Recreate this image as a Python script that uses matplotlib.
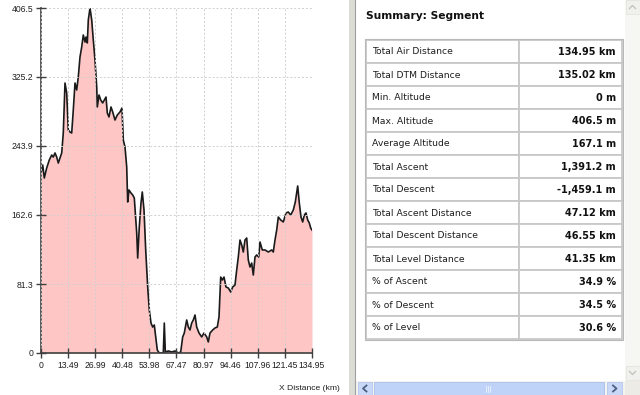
import matplotlib
matplotlib.use("Agg")
import matplotlib.pyplot as plt
from matplotlib.patches import Rectangle

# 高程剖面数据（km, m），从截图读取
dist_km = [
    0.0, 0.85, 1.64, 2.84, 4.13, 5.33, 6.13, 6.97, 7.82, 8.62, 9.46, 10.31,
    11.10, 11.95, 12.80, 13.59, 14.44, 15.29, 16.08, 16.93, 17.78, 18.57,
    19.42, 20.27, 21.06, 21.91, 22.41, 23.06, 23.56, 24.40, 25.25, 26.04,
    26.89, 27.74, 28.04, 28.88, 29.73, 30.73, 31.52, 32.37, 33.02, 33.86,
    34.86, 35.70, 36.85, 38.00, 39.34, 40.34, 40.98, 41.83, 42.68, 43.17,
    43.82, 44.82, 45.66, 46.46, 47.66, 48.15, 48.95, 49.80, 50.44, 51.29,
    52.14, 53.13, 53.93, 54.78, 55.62, 56.42, 57.12, 57.91, 58.91, 60.90,
    61.40, 61.90, 63.39, 65.08, 66.73, 68.37, 69.57, 70.56, 71.36, 72.55,
    73.35, 74.20, 75.04, 75.84, 76.69, 77.53, 78.68, 80.02, 81.17, 82.52,
    83.31, 84.16, 85.50, 86.65, 87.79, 88.64, 89.49, 90.28, 91.13, 92.12,
    93.27, 94.47, 95.46, 96.61, 97.45, 98.25, 99.10, 99.94, 100.74, 101.59,
    102.43, 103.23, 104.08, 104.92, 105.72, 106.57, 107.41, 108.41, 109.06,
    110.20, 111.55, 113.19, 114.88, 115.68, 116.52, 117.37, 118.17, 119.37,
    120.66, 122.00, 123.15, 124.35, 125.64, 126.64, 127.83, 128.63, 129.47,
    130.32, 131.12, 131.96, 132.81, 133.60, 134.30, 134.95,
]
alt_m = [
    212.0, 221.5, 206.2, 218.0, 227.4, 233.3, 230.9, 235.7, 230.9, 223.8,
    229.8, 235.7, 259.2, 318.1, 306.3, 262.7, 260.4, 259.2, 286.3, 318.1,
    309.9, 325.2, 348.8, 360.5, 374.7, 366.4, 372.3, 365.3, 392.4, 406.5,
    392.4, 368.8, 345.2, 313.4, 289.9, 304.0, 298.1, 294.6, 298.1, 301.6,
    282.8, 278.1, 289.9, 284.0, 274.5, 280.4, 284.0, 288.7, 251.0, 242.7,
    219.2, 177.9, 192.1, 188.5, 186.2, 182.6, 141.4, 111.9, 148.5, 176.7,
    189.7, 168.5, 121.4, 77.8, 50.7, 35.3, 30.6, 33.0, 18.9, 3.5, 0.0, 0.0,
    35.3, 1.2, 2.4, 1.2, 2.4, 0.0, 1.2, 18.9, 23.6, 38.9, 30.6, 27.1, 35.3,
    38.9, 44.8, 30.6, 23.6, 18.9, 23.6, 18.9, 13.0, 23.6, 27.1, 29.5, 30.6,
    42.4, 89.5, 86.0, 89.5, 77.8, 76.6, 71.9, 77.8, 80.1, 97.8, 113.1,
    133.1, 127.3, 119.0, 133.1, 135.5, 109.6, 101.3, 106.0, 91.9, 113.1,
    115.5, 113.1, 130.8, 121.4, 121.4, 119.0, 121.4, 119.0, 133.1, 144.9,
    160.2, 156.7, 154.4, 165.0, 166.1, 162.6, 168.5, 177.9, 196.8, 176.7,
    160.2, 154.4, 162.6, 165.0, 156.7, 153.2, 147.3, 144.9,
]

x_tick_labels = ["0", "13.49", "26.99", "40.48", "53.98", "67.47", "80.97",
                 "94.46", "107.96", "121.45", "134.95"]
y_tick_labels = ["0", "81.3", "162.6", "243.9", "325.2", "406.5"]

summary_labels = [
    "Total Air Distance", "Total DTM Distance", "Min. Altitude",
    "Max. Altitude", "Average Altitude", "Total Ascent", "Total Descent",
    "Total Ascent Distance", "Total Descent Distance", "Total Level Distance",
    "% of Ascent", "% of Descent", "% of Level",
]
summary_values = [
    "134.95 km", "135.02 km", "0 m", "406.5 m", "167.1 m", "1,391.2 m",
    "-1,459.1 m", "47.12 km", "46.55 km", "41.35 km", "34.9 %", "34.5 %",
    "30.6 %",
]

W, H = 640, 395
fig = plt.figure(figsize=(W / 100, H / 100), dpi=100)
fig.patch.set_facecolor("white")

# 界面部分（像素坐标）
ui = fig.add_axes([0, 0, 1, 1], zorder=0)
ui.set_xlim(0, W)
ui.set_ylim(H, 0)
ui.axis("off")

# 分隔条
ui.add_patch(Rectangle((349, 0), 6, H, facecolor="#dcdcd6", edgecolor="none"))
ui.plot([354.5, 354.5], [0, H], color="#a0a0a0", lw=0.8)

# 标题
ui.text(366, 16, "Summary: Segment", fontsize=7.7, fontweight="bold",
        family="DejaVu Sans", va="center", ha="left", color="#111111")

# 表格
row_h = 23
top = 40
x_left, x_mid, x_right = 366, 518.5, 622
for i in range(len(summary_labels)):
    y0 = top + i * row_h
    ui.add_patch(Rectangle((x_left, y0), x_mid - x_left, row_h,
                           facecolor="white", edgecolor="#c8c8c8", lw=1.3))
    ui.add_patch(Rectangle((x_mid, y0), x_right - x_mid, row_h,
                           facecolor="white", edgecolor="#c8c8c8", lw=1.3))
    ui.text(372, y0 + row_h / 2 + 0.5, summary_labels[i], fontsize=6.7,
            family="DejaVu Sans", va="center", ha="left", color="#1e1e1e")
    ui.text(616, y0 + row_h / 2 + 0.5, summary_values[i], fontsize=7.0,
            fontweight="bold", family="DejaVu Sans", va="center", ha="right",
            color="#111111")
ui.add_patch(Rectangle((x_left - 1, top - 1), x_right - x_left + 2,
                       row_h * len(summary_labels) + 2, facecolor="none",
                       edgecolor="#b8b8b8", lw=0.8))

# 竖向滚动条
ui.add_patch(Rectangle((625, 0), 15, 381, facecolor="#f6f6f3", edgecolor="none"))
ui.add_patch(Rectangle((625.5, 0), 14, 14, facecolor="#f0f0ec", edgecolor="#e4e4de", lw=0.6))
ui.add_patch(Rectangle((625.5, 366), 14, 14, facecolor="#f0f0ec", edgecolor="#e4e4de", lw=0.6))
ui.plot([629.5, 632.5, 635.5], [8.5, 5.5, 8.5], color="#c4c4c0", lw=1.0)
ui.plot([629.5, 632.5, 635.5], [371.5, 374.5, 371.5], color="#c4c4c0", lw=1.0)

# 横向滚动条
ui.add_patch(Rectangle((356, 381), 269, 14, facecolor="#f4f4f0", edgecolor="none"))
ui.add_patch(Rectangle((358, 382), 14, 13, facecolor="#c9d8f6", edgecolor="#b4c6ee", lw=0.6))
ui.add_patch(Rectangle((374, 382), 230, 13, facecolor="#bfd2f7", edgecolor="#a9bdea", lw=0.6))
ui.add_patch(Rectangle((607, 382), 15, 13, facecolor="#c9d8f6", edgecolor="#b4c6ee", lw=0.6))
ui.plot([366.5, 363, 366.5], [385.5, 388.5, 391.5], color="#4d6185", lw=1.3)
ui.plot([613, 616.5, 613], [385.5, 388.5, 391.5], color="#4d6185", lw=1.3)
for gx in [486, 488, 490]:
    ui.plot([gx, gx], [385.5, 391.5], color="#eef3fd", lw=0.6)
ui.add_patch(Rectangle((625, 381), 15, 14, facecolor="#ecebe5", edgecolor="none"))

# 剖面图
ax = fig.add_axes([41 / W, (H - 353) / H, 271 / W, 345 / H], zorder=1)
ax.set_facecolor("white")
ax.fill_between(dist_km, alt_m, 0, color="#ffc6c6", lw=0)
ax.plot(dist_km, alt_m, color="#1a1a1a", lw=1.2)

ax.set_xlim(0, 134.95)
ax.set_ylim(0, 406.5)
ax.set_xticks([float(t) for t in x_tick_labels])
ax.set_xticklabels(x_tick_labels)
ax.set_yticks([float(t) for t in y_tick_labels])
ax.set_yticklabels(y_tick_labels)
ax.tick_params(direction="inout", length=6.5, width=1.0, color="#404040",
               labelsize=6.2, pad=2.5, labelcolor="#1e1e1e")
for lab in ax.get_xticklabels() + ax.get_yticklabels():
    lab.set_family("Liberation Sans")

ax.grid(True, color="#cfcfcf", linestyle=(0, (2, 2)), lw=0.7)
ax.set_axisbelow(False)
for side in ["top", "right"]:
    ax.spines[side].set_visible(False)
for side in ["left", "bottom"]:
    ax.spines[side].set_color("#404040")
    ax.spines[side].set_linewidth(1.2)

fig.text(279 / W, 1 - 388 / H, "X Distance (km)", fontsize=6.1,
         family="Liberation Sans", ha="left", va="center", color="#1e1e1e")

fig.savefig("out.png", dpi=100, facecolor="white")
